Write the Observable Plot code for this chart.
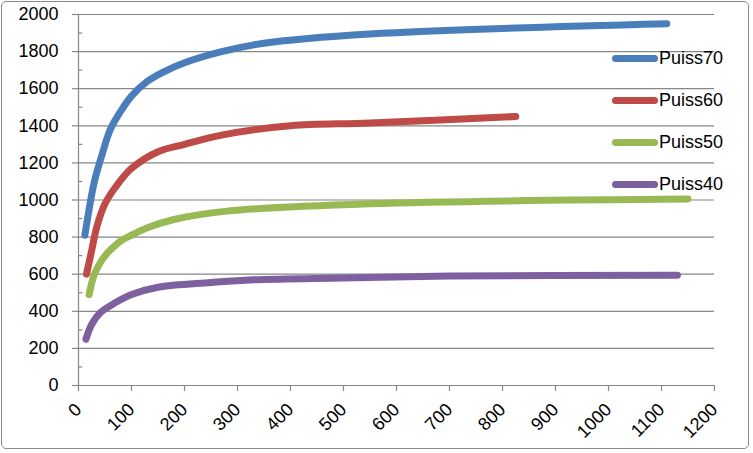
<!DOCTYPE html>
<html><head><meta charset="utf-8">
<script src="https://cdn.jsdelivr.net/npm/d3@7"></script>
<script src="https://cdn.jsdelivr.net/npm/@observablehq/plot@0.6"></script>
<style>
html,body{margin:0;padding:0;background:#fff;}
#wrap{position:relative;width:753px;height:453px;font-family:"Liberation Sans",Arial,sans-serif;}
#border{position:absolute;left:1px;top:1px;width:748px;height:448px;border:1.3px solid #8a8a8a;border-radius:5px;box-sizing:border-box;pointer-events:none;}
.item{position:absolute;left:612px;height:20px;display:flex;align-items:center;font-size:18px;color:#000;}
.sw{width:46px;height:7px;border-radius:4px;margin-right:1px;}
</style></head>
<body><div id="wrap"><div id="border"></div></div>
<script>
const seriesNames = ["Puiss70","Puiss60","Puiss50","Puiss40"];
const colors = ["#4a7ebb","#be4b48","#98b954","#7d60a0"];
const x70 = [12,20,30,45,60,80,100,130,160,200,270,350,550,1110];
const y70 = [810,950,1100,1250,1380,1480,1560,1640,1690,1740,1800,1845,1895,1950];
const x60 = [15,25,35,50,70,100,150,200,270,400,550,825];
const y60 = [600,730,860,980,1070,1170,1260,1300,1350,1400,1415,1450];
const x50 = [20,30,45,60,80,100,130,180,280,550,1150];
const y50 = [490,600,680,730,780,810,850,895,940,980,1005];
const x40 = [14,25,40,60,100,150,250,330,500,700,1130];
const y40 = [250,330,390,430,490,530,555,570,580,590,595];
const xTicks = d3.range(0,1201,100);
const yTicks = d3.range(0,2001,200);
const yMinor = d3.range(100,2000,200);

const xs = [x70,x60,x50,x40], ys=[y70,y60,y50,y40];
const data = [];
seriesNames.forEach((s,i)=>xs[i].forEach((x,j)=>data.push({s,x,y:ys[i][j]})));

const chart = Plot.plot({
  width:753, height:453,
  marginLeft:78, marginRight:39, marginTop:14, marginBottom:68,
  style:{fontFamily:"Liberation Sans, Arial, sans-serif", fontSize:"18px", color:"#000", background:"transparent"},
  x:{domain:[0,1200]},
  y:{domain:[0,2000]},
  color:{domain:seriesNames, range:colors},
  marks:[
    Plot.gridY(yTicks.filter(d=>d>0),{stroke:"#868686",strokeOpacity:1,strokeWidth:1.2}),
    Plot.ruleY(yMinor,{x1:0,x2:8,stroke:"#868686",strokeWidth:1.2}),
    Plot.axisY({ticks:yTicks,tickFormat:d=>String(d),tickSize:6,tickPadding:14,stroke:"#868686",strokeWidth:1.2,label:null,fill:"#000"}),
    Plot.axisX({ticks:xTicks,tickFormat:d=>String(d),tickSize:6,tickPadding:15,tickRotate:-45,stroke:"#868686",strokeWidth:1.2,label:null,fill:"#000"}),
    Plot.ruleX([0],{stroke:"#868686",strokeWidth:1.2}),
    Plot.ruleY([0],{stroke:"#868686",strokeWidth:1.2}),
    Plot.line(data,{x:"x",y:"y",z:"s",stroke:"s",strokeWidth:7,strokeLinecap:"round",strokeLinejoin:"round",curve:"catmull-rom"})
  ]
});
document.getElementById("wrap").prepend(chart);
const wrap = document.getElementById("wrap");
seriesNames.forEach((s,i)=>{
  const it=document.createElement("div");it.className="item";
  it.style.top=(58+42*i-10)+"px";
  it.innerHTML=`<div class="sw" style="background:${colors[i]}"></div><span>${s}</span>`;
  wrap.appendChild(it);
});
</script></body></html>
